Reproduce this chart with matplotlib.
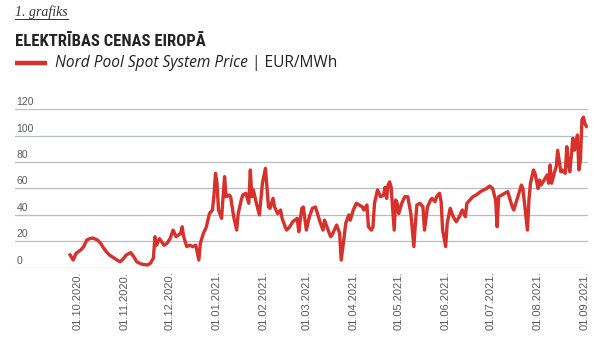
import matplotlib
matplotlib.use("Agg")
import matplotlib.pyplot as plt
import matplotlib.dates as mdates
from matplotlib.lines import Line2D
from matplotlib import font_manager
import pandas as pd

# ---- data ----
start_date = "2020-10-01"
day_offsets = [-5, -3, -1, 2, 4, 6, 8, 10, 13, 15, 17, 19, 21, 24, 26, 28, 30, 32, 35, 37,
               39, 42, 46, 48, 50, 51, 52, 54, 57, 59, 61, 63, 65, 68, 69, 70, 72, 74, 76, 78,
               80, 81, 83, 85, 87, 89, 90, 91, 92, 93, 95, 97, 98, 100, 101, 103, 105, 106, 108, 109,
               111, 113, 114, 115, 116, 118, 120, 122, 124, 125, 126, 127, 129, 130, 132, 134, 135, 137, 138, 140,
               142, 145, 146, 148, 149, 150, 151, 153, 155, 157, 158, 160, 162, 163, 165, 167, 168, 170, 171, 173,
               174, 176, 177, 179, 180, 182, 184, 186, 188, 189, 191, 192, 194, 195, 196, 198, 199, 200, 202, 203,
               204, 205, 206, 207, 209, 210, 211, 212, 214, 216, 218, 220, 222, 223, 224, 226, 228, 229, 231, 233,
               234, 236, 237, 239, 240, 241, 243, 244, 246, 248, 250, 252, 254, 256, 257, 259, 261, 263, 266, 268,
               270, 272, 274, 276, 277, 278, 280, 282, 284, 285, 287, 288, 290, 292, 293, 294, 297, 298, 299, 301,
               302, 304, 305, 306, 308, 310, 311, 312, 313, 315, 316, 317, 319, 320, 322, 323, 324, 325, 327, 328,
               330, 331, 332, 333, 334, 335, 336]
prices = [9.6, 5.8, 11, 13.4, 16, 21, 22, 22.5, 21, 18.7, 15, 12, 9.6, 7.3, 5.8, 4.5, 6.6, 9.6, 11.4, 8.3,
          4.5, 2.8, 2, 3.3, 7.3, 23.5, 17, 22, 17, 18.5, 22, 28.5, 23.5, 26, 31, 23.5, 16, 17, 16, 17,
          5.8, 18.5, 26, 31, 41, 43.7, 55, 71.5, 64, 43.7, 37.4, 69, 53.8, 55, 53.8, 38.6, 28.5, 41, 51.3, 55,
          56.4, 48.8, 74, 53.8, 58.9, 48.8, 40, 64, 75.3, 61, 46, 45, 52.5, 46, 41, 43.7, 37.4, 31, 28.5, 31,
          34.8, 37.4, 27.3, 45, 46, 37.4, 28.5, 38.6, 45, 46, 42.4, 34.8, 28.5, 36, 29.8, 23.5, 24.8, 29.8, 32.3, 26,
          5.8, 23.5, 33.6, 40, 36, 43.7, 48.8, 47.5, 46, 43.7, 47.5, 31, 28.5, 31, 48.8, 58.9, 56.4, 53.8, 55, 61,
          52.5, 62.6, 65, 61, 28.5, 51.3, 48.8, 41, 48.8, 53.8, 53.8, 41, 16, 33.6, 47.5, 48.8, 46, 28.5, 46, 51.3,
          52.5, 50, 53.8, 56.4, 50, 28.5, 16, 33.6, 45, 38.6, 34.8, 38.6, 43.7, 38.6, 48.8, 51.3, 53.8, 55, 57.6, 58.9,
          60, 61.9, 60, 51.3, 31, 53.8, 55, 56.4, 57.6, 53.8, 46, 43.7, 51.3, 58.9, 62.6, 60, 28.5, 51.3, 64, 74,
          71.5, 60, 66.4, 62.6, 66.4, 70.2, 64, 77.8, 64, 72.7, 76.5, 89, 72.7, 74, 71.5, 91.7, 79, 72.7, 98, 89,
          100.5, 74, 81.5, 112, 114, 109, 107]
tick_dates = ["2020-10-01", "2020-11-01", "2020-12-01", "2021-01-01", "2021-02-01", "2021-03-01",
              "2021-04-01", "2021-05-01", "2021-06-01", "2021-07-01", "2021-08-01", "2021-09-01"]
y_ticks = [0, 20, 40, 60, 80, 100, 120]

label_kicker = "1. grafiks"
title = "ELEKTRĪBAS CENAS EIROPĀ"
legend_italic = "Nord Pool Spot System Price"
legend_plain = " | EUR/MWh"

RED = "#d8302a"
GRID = "#b9bdc6"
TXT = "#5a5a5a"

base = pd.Timestamp(start_date)
dates = base + pd.to_timedelta(day_offsets, unit="D")

W, H = 600, 360
fig = plt.figure(figsize=(6, 3.6), dpi=100)
fig.patch.set_facecolor("white")


def fx(px):
    return px / W


def fy(py):
    return 1 - py / H


ax = fig.add_axes([fx(15), fy(267.7), fx(588) - fx(15), fy(109.3) - fy(267.7)])
ax.set_facecolor("none")
ax.set_ylim(0, 120)
ax.set_xlim(base - pd.Timedelta(days=41.4), base + pd.Timedelta(days=337.0))

for v in y_ticks:
    ax.axhline(v, color=GRID, lw=0.9, zorder=1)
    ax.annotate(str(v), xy=(0, v), xycoords=("axes fraction", "data"),
                xytext=(1, 1.5), textcoords="offset points",
                ha="left", va="bottom", fontsize=7.5, color=TXT,
                family=["Liberation Sans", "DejaVu Sans"])

ax.plot(dates, prices, color=RED, lw=2.4, solid_joinstyle="round", zorder=3)

ax.set_yticks([])
ax.set_xticks(pd.to_datetime(tick_dates))
ax.xaxis.set_major_formatter(mdates.DateFormatter("%d.%m.%Y."))
ax.tick_params(axis="x", length=0, pad=3, labelsize=8, labelcolor=TXT, rotation=90)
for lab in ax.get_xticklabels():
    lab.set_family(["Liberation Sans", "DejaVu Sans"])
for s in ax.spines.values():
    s.set_visible(False)

# pick a condensed face for the headline if one is installed
names = {f.name for f in font_manager.fontManager.ttflist}
cond = [n for n in ["Roboto Condensed", "Liberation Sans Narrow", "DejaVu Sans Condensed",
                    "Open Sans Condensed", "Noto Sans Condensed"] if n in names]
cond_stretch = [f for f in font_manager.fontManager.ttflist
                if f.name in ("DejaVu Sans", "Noto Sans", "Open Sans", "Roboto")
                and f.stretch in ("condensed", "semi-condensed", "extra-condensed", 75, 87.5)]

fig.text(fx(15), fy(16), label_kicker, fontsize=10, style="italic", color="#333333",
         family=["Liberation Serif", "DejaVu Serif"], ha="left", va="baseline")
fig.add_artist(Line2D([fx(15), fx(68)], [fy(18.5), fy(18.5)], color="#333333", lw=0.7))

if cond:
    tt = fig.text(fx(15), fy(46.5), title, fontsize=12, fontweight="bold", color="#222222",
                  family=[cond[0], "DejaVu Sans"], ha="left", va="baseline")
elif cond_stretch:
    tt = fig.text(fx(15), fy(46.5), title, fontsize=12, fontweight="bold", color="#222222",
                  family=[cond_stretch[0].name], fontstretch="condensed", ha="left", va="baseline")
else:
    tt = fig.text(fx(15), fy(46.5), title, fontsize=10.5, fontweight="bold", color="#222222",
                  family=["Liberation Sans", "DejaVu Sans"], ha="left", va="baseline")

fig.add_artist(Line2D([fx(15), fx(47)], [fy(63), fy(63)], color=RED, lw=3.2, solid_capstyle="butt"))
t1 = fig.text(fx(55), fy(67), legend_italic, fontsize=11.2, style="italic", color="#222222",
              family=["Open Sans", "DejaVu Sans"], ha="left", va="baseline")
fig.canvas.draw()
bb = t1.get_window_extent(renderer=fig.canvas.get_renderer())
fig.text(bb.x1 / W, fy(67), legend_plain, fontsize=11.2, color="#222222",
         family=["Open Sans", "DejaVu Sans"], ha="left", va="baseline")

fig.savefig("out.png", dpi=100, facecolor="white")
